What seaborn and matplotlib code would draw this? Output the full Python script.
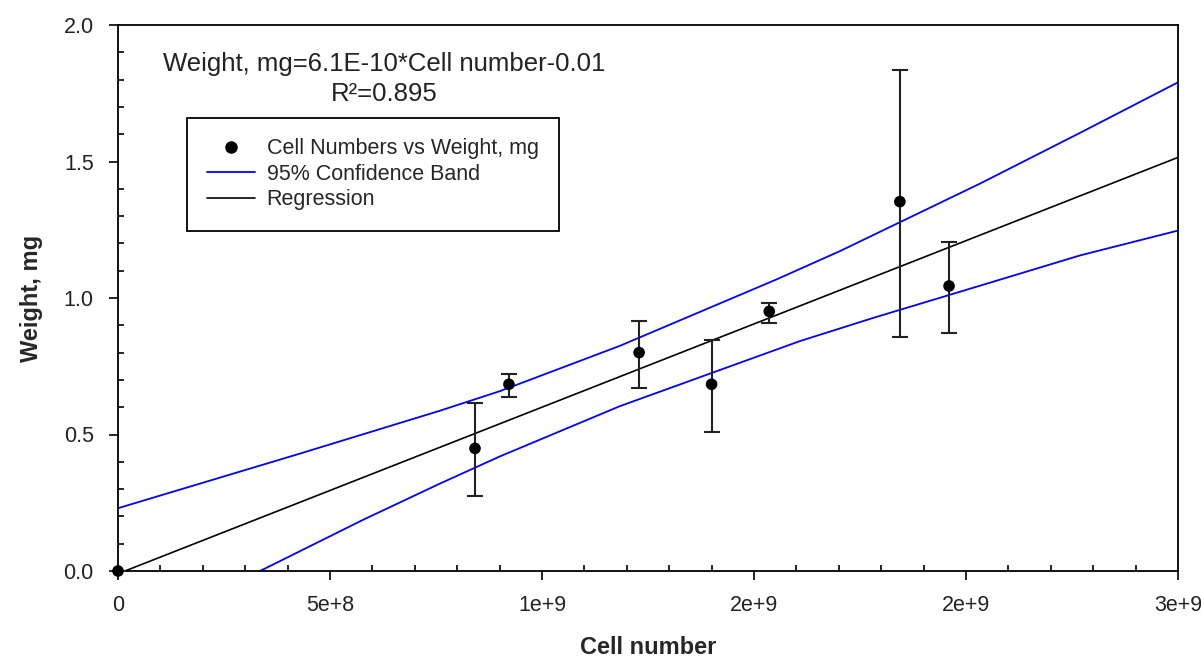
import numpy as np
import pandas as pd
import matplotlib
matplotlib.use("Agg")
import matplotlib.pyplot as plt
from matplotlib.lines import Line2D
from matplotlib.ticker import FixedLocator, MultipleLocator
import seaborn as sns

# ---- data ----
cell_number = [0.0, 0.842e9, 0.922e9, 1.229e9, 1.400e9, 1.536e9, 1.844e9, 1.960e9]
weight_mg = [0.0, 0.449, 0.684, 0.800, 0.684, 0.951, 1.353, 1.044]
weight_hi = [0.0, 0.616, 0.723, 0.914, 0.847, 0.980, 1.835, 1.206]
weight_lo = [0.0, 0.274, 0.637, 0.671, 0.510, 0.908, 0.857, 0.871]

reg_slope = 6.1e-10
reg_intercept = -0.01
r_squared = 0.895
reg_x = [0.0, 2.5e9]

band_upper_x = [0.0, 0.429e9, 0.759e9, 0.901e9, 1.184e9, 1.553e9, 1.703e9, 2.033e9, 2.269e9, 2.5e9]
band_upper = [0.230, 0.430, 0.587, 0.659, 0.825, 1.068, 1.172, 1.419, 1.605, 1.790]
band_lower_x = [0.335e9, 0.578e9, 0.759e9, 0.901e9, 1.184e9, 1.608e9, 1.781e9, 2.033e9, 2.269e9, 2.5e9]
band_lower = [0.0, 0.1875, 0.320, 0.420, 0.604, 0.842, 0.927, 1.045, 1.156, 1.247]

x_ticks = [0.0, 5e8, 1e9, 1.5e9, 2e9, 2.5e9]
x_tick_labels = ["0", "5e+8", "1e+9", "2e+9", "2e+9", "3e+9"]
y_ticks = [0.0, 0.5, 1.0, 1.5, 2.0]
y_tick_labels = ["0.0", "0.5", "1.0", "1.5", "2.0"]

legend_labels = ["Cell Numbers vs Weight, mg", "95% Confidence Band", "Regression"]

# ---- style ----
sns.set_style("white")
plt.rcParams["font.family"] = ["Liberation Sans", "DejaVu Sans"]
plt.rcParams["axes.edgecolor"] = "black"

fig = plt.figure(figsize=(12.01, 6.60), dpi=100)
ax = fig.add_axes([118 / 1201, 1 - 571 / 660, (1178 - 118) / 1201, (571 - 25) / 660])

df = pd.DataFrame({"cell": cell_number, "w": weight_mg})
reg_df = pd.DataFrame({"x": reg_x, "y": [reg_slope * v + reg_intercept for v in reg_x]})
up_df = pd.DataFrame({"x": band_upper_x, "y": band_upper})
lo_df = pd.DataFrame({"x": band_lower_x, "y": band_lower})

sns.lineplot(data=up_df, x="x", y="y", color="#0000FF", lw=1.3, ax=ax, errorbar=None)
sns.lineplot(data=lo_df, x="x", y="y", color="#0000FF", lw=1.3, ax=ax, errorbar=None)
sns.lineplot(data=reg_df, x="x", y="y", color="black", lw=1.2, ax=ax, errorbar=None)

yerr = [np.array(weight_mg) - np.array(weight_lo), np.array(weight_hi) - np.array(weight_mg)]
ax.errorbar(cell_number, weight_mg, yerr=yerr, fmt="none", ecolor="#222222",
            elinewidth=1.5, capsize=5.5, capthick=1.5, zorder=3)
sns.scatterplot(data=df, x="cell", y="w", color="black", s=70, edgecolor="none",
                ax=ax, zorder=4, clip_on=False)

ax.set_xlim(0, 2.5e9)
ax.set_ylim(0, 2.0)
ax.xaxis.set_major_locator(FixedLocator(x_ticks))
ax.set_xticklabels(x_tick_labels)
ax.yaxis.set_major_locator(FixedLocator(y_ticks))
ax.set_yticklabels(y_tick_labels)
ax.xaxis.set_minor_locator(MultipleLocator(1e8))
ax.yaxis.set_minor_locator(MultipleLocator(0.1))

ax.tick_params(which="major", direction="out", length=6.5, width=1.2, labelsize=15.5,
               pad=11, color="black", labelcolor="#222222")
ax.tick_params(which="minor", direction="in", length=4.5, width=1.2, color="black")
ax.tick_params(axis="x", which="both", bottom=True, top=False)
ax.tick_params(axis="y", which="both", left=True, right=False)

for sp in ax.spines.values():
    sp.set_visible(True)
    sp.set_linewidth(1.3)
    sp.set_color("black")

ax.set_xlabel("Cell number", fontsize=17, fontweight="bold", labelpad=14)
ax.set_ylabel("Weight, mg", fontsize=17, fontweight="bold", labelpad=15)

ax.text((384 - 118) / 1060, (571 - 52) / 546,
        f"Weight, mg=6.1E-10*Cell number-0.01\nR\u00b2={r_squared}",
        transform=ax.transAxes, ha="center", va="top", fontsize=18.5,
        color="#222222", linespacing=1.3)

handles = [
    Line2D([], [], marker="o", color="black", ls="none", markersize=8),
    Line2D([], [], color="#0000FF", lw=1.3),
    Line2D([], [], color="black", lw=1.2),
]
leg = ax.legend(handles, legend_labels, loc="upper left",
                bbox_to_anchor=((187 - 118) / 1060, (571 - 118) / 546),
                borderaxespad=0, fontsize=15.5, frameon=True, fancybox=False,
                edgecolor="black", framealpha=1, handlelength=2.2,
                handletextpad=0.55, labelspacing=0.2, borderpad=0.95)
leg.get_frame().set_linewidth(1.3)

fig.savefig("out.png", dpi=100)
